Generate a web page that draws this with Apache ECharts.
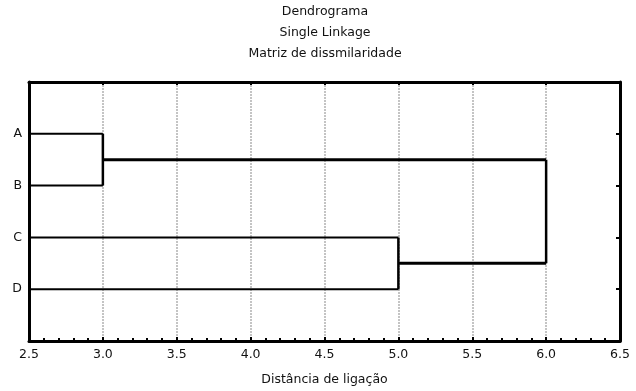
<!DOCTYPE html>
<html><head><meta charset="utf-8">
<script src="https://cdn.jsdelivr.net/npm/echarts@6/dist/echarts.min.js"></script>
<style>html,body{margin:0;padding:0;background:#fff}#c{width:636px;height:391px}</style>
</head><body><div id="c"></div>
<script>
// Data
const titles = ['Dendrograma', 'Single Linkage', 'Matriz de dissmilaridade'];
const xAxisName = 'Distância de ligação';
const leaves = ['A', 'B', 'C', 'D'];
const leafBase = 2.5;
// merges: [left node, right node, linkage distance]; nodes >= leaves.length are earlier merges
const merges = [[0, 1, 3.0], [2, 3, 5.0], [4, 5, 6.0]];
const xTicks = [2.5, 3.0, 3.5, 4.0, 4.5, 5.0, 5.5, 6.0, 6.5];

// Build dendrogram segments
const nodeY = leaves.map((_, i) => i + 1);
const nodeH = leaves.map(() => leafBase);
const series = [];
function seg(pts, w) {
  series.push({type: 'line', data: pts, showSymbol: false, symbol: 'none', silent: true,
    lineStyle: {color: '#000', width: w}, z: 5, animation: false});
}
merges.forEach(([a, b, h]) => {
  const ya = nodeY[a], yb = nodeY[b];
  seg([[nodeH[a], ya], [h, ya]], a < leaves.length ? 2 : 3);
  seg([[nodeH[b], yb], [h, yb]], b < leaves.length ? 2 : 3);
  seg([[h, ya], [h, yb]], 2.5);
  nodeY.push((ya + yb) / 2);
  nodeH.push(h);
});

const font = 'DejaVu Sans, Verdana, sans-serif';
const fs = 12.5;
const chart = echarts.init(document.getElementById('c'));
chart.setOption({
  animation: false,
  title: titles.map((t, i) => ({
    text: t, left: 325, top: 5 + i * 21, textAlign: 'center', padding: 0,
    textStyle: {fontSize: fs, fontWeight: 'normal', color: '#111', fontFamily: font}
  })),
  grid: {left: 29, right: 16, top: 82, bottom: 49},
  xAxis: [{
    type: 'value', min: 2.5, max: 6.5, interval: 0.5, position: 'bottom',
    axisLine: {show: true, onZero: false, lineStyle: {color: '#000', width: 3}},
    axisTick: {show: true, inside: true, length: 4, lineStyle: {color: '#000', width: 2}},
    minorTick: {show: true, splitNumber: 5, length: 3, lineStyle: {color: '#000', width: 2}},
    axisLabel: {margin: 7, fontSize: fs, color: '#111', fontFamily: font,
      formatter: v => { const t = xTicks.find(x => Math.abs(x - v) < 1e-6); return t === undefined ? '' : t.toFixed(1); }},
    splitLine: {show: true, lineStyle: {color: '#c4c4c4', width: 2, type: [2, 1]}},
    name: xAxisName, nameLocation: 'middle', nameGap: 32,
    nameTextStyle: {fontSize: fs, color: '#111', fontFamily: font}
  }, {
    type: 'value', min: 2.5, max: 6.5, interval: 0.5, position: 'top',
    axisLine: {show: true, onZero: false, lineStyle: {color: '#000', width: 3}},
    axisTick: {show: true, inside: true, length: 3, lineStyle: {color: '#000', width: 2}},
    axisLabel: {show: false}, splitLine: {show: false}
  }],
  yAxis: [{
    type: 'value', min: 0, max: 5, interval: 1, inverse: true, position: 'left',
    axisLine: {show: true, onZero: false, lineStyle: {color: '#000', width: 3}},
    axisTick: {show: false},
    axisLabel: {margin: 7, fontSize: fs, color: '#111', fontFamily: font,
      formatter: v => leaves[v - 1] || ''},
    splitLine: {show: false}
  }, {
    type: 'value', min: 0, max: 5, interval: 1, inverse: true, position: 'right',
    axisLine: {show: true, onZero: false, lineStyle: {color: '#000', width: 3}},
    axisTick: {show: true, inside: true, length: 4, lineStyle: {color: '#000', width: 2}},
    axisLabel: {show: false}, splitLine: {show: false}
  }],
  series: series
});
</script></body></html>
